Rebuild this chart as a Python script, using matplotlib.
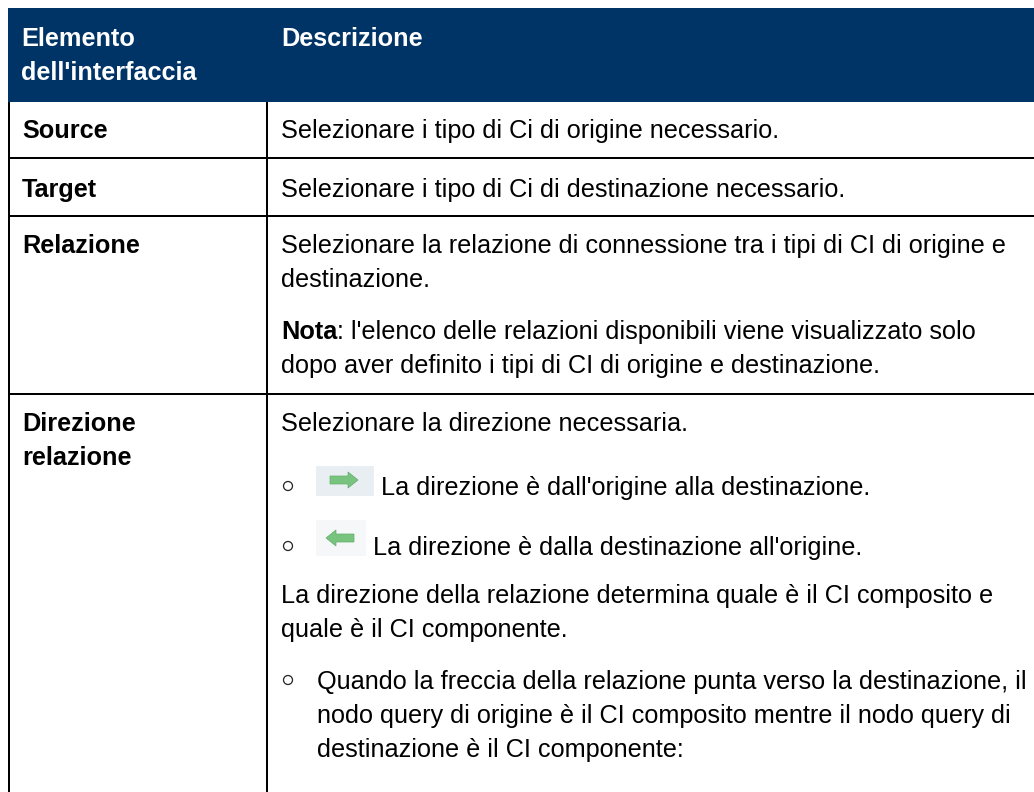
import matplotlib
matplotlib.use("Agg")
import matplotlib.pyplot as plt
from matplotlib.patches import Rectangle, Circle, FancyArrow

header_labels = ["Elemento\ndell'interfaccia", "Descrizione"]

left_labels = ["Source", "Target", "Relazione", "Direzione\nrelazione"]
left_baselines = [138, 197, 253, 431]

body_lines = [
    ("Selezionare i tipo di Ci di origine necessario.", 281, 138),
    ("Selezionare i tipo di Ci di destinazione necessario.", 281, 197),
    ("Selezionare la relazione di connessione tra i tipi di CI di origine e", 281, 253),
    ("destinazione.", 281, 287),
    (": l'elenco delle relazioni disponibili viene visualizzato solo", 337, 339),
    ("dopo aver definito i tipi di CI di origine e destinazione.", 281, 373),
    ("Selezionare la direzione necessaria.", 281, 431),
    ("La direzione è dall'origine alla destinazione.", 381, 495),
    ("La direzione è dalla destinazione all'origine.", 373, 555),
    ("La direzione della relazione determina quale è il CI composito e", 281, 603),
    ("quale è il CI componente.", 281, 637),
    ("Quando la freccia della relazione punta verso la destinazione, il", 317, 689),
    ("nodo query di origine è il CI composito mentre il nodo query di", 317, 723),
    ("destinazione è il CI componente:", 317, 757),
]

row_lines = [158, 216, 394]
bullet_rows = [486, 546, 680]

NAVY = "#003366"
FS = 18.15


def draw_icon(ax, x0, x1, y0, y1, bg, ax0, dx, ay):
    ax.add_patch(Rectangle((x0, y0), x1 - x0, y1 - y0, color=bg, lw=0))
    ax.add_patch(FancyArrow(ax0, ay, dx, 0, width=8, head_width=16, head_length=10,
                            length_includes_head=True, fc="#78c47e", ec="#62ad69", lw=0.5))


def main():
    plt.rcParams["font.family"] = ["Liberation Sans", "DejaVu Sans"]
    fig = plt.figure(figsize=(10.34, 7.92), dpi=100)
    ax = fig.add_axes([0, 0, 1, 1])
    ax.set_xlim(0, 1034)
    ax.set_ylim(792, 0)
    ax.axis("off")

    ax.add_patch(Rectangle((8, 8), 1026, 94, color=NAVY, lw=0))
    ax.text(21, 46, header_labels[0].split("\n")[0], color="white", fontsize=FS, fontweight="bold", va="baseline")
    ax.text(21, 80, header_labels[0].split("\n")[1], color="white", fontsize=FS, fontweight="bold", va="baseline")
    ax.text(281, 46, header_labels[1], color="white", fontsize=FS, fontweight="bold", va="baseline")

    for y in row_lines:
        ax.plot([8, 1034], [y, y], color="black", lw=1.44, solid_capstyle="butt")
    ax.plot([9, 9], [102, 792], color="black", lw=1.44, solid_capstyle="butt")
    ax.plot([267, 267], [102, 792], color="black", lw=1.44, solid_capstyle="butt")

    for label, y in zip(left_labels, left_baselines):
        for i, part in enumerate(label.split("\n")):
            ax.text(22, y + i * 34, part, color="black", fontsize=FS, fontweight="bold", va="baseline")

    ax.text(281, 339, "Nota", color="black", fontsize=FS, fontweight="bold", va="baseline")
    for text, x, y in body_lines:
        ax.text(x, y, text, color="black", fontsize=FS, va="baseline")

    for y in bullet_rows:
        ax.add_patch(Circle((288, y), 4.5, fc="white", ec="#222222", lw=0.9))

    draw_icon(ax, 316, 374, 466, 496, "#e9eef2", 330, 28, 480)
    draw_icon(ax, 316, 366, 520, 556, "#f5f7f9", 354, -28, 538)

    fig.savefig("out.png", dpi=100)


if __name__ == "__main__":
    main()
